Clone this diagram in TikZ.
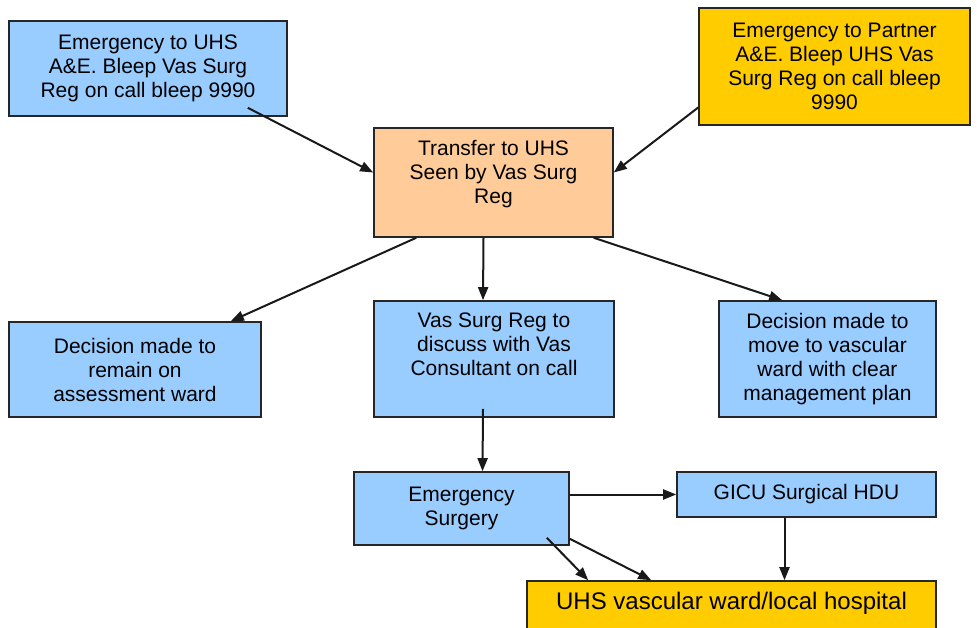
\documentclass[tikz,border=0pt]{standalone}
\usepackage{fontspec}
\setmainfont{Liberation Sans}
\usetikzlibrary{arrows.meta, calc, positioning}
\definecolor{cellblue}{HTML}{99CCFF}
\definecolor{cellpeach}{HTML}{FFCC99}
\definecolor{cellgold}{HTML}{FFCC00}
\newcommand{\padbelow}[1]{\rule[-#1]{0pt}{#1}}
\tikzset{
    box/.style = {rectangle, draw=black!85, line width=1.6pt, align=center, inner sep=2pt,
        font=\fontsize{21}{24}\selectfont},
    bluebox/.style = {box, fill=cellblue},
    peachbox/.style = {box, fill=cellpeach},
    goldbox/.style = {box, fill=cellgold},
    flow/.style = {-{Triangle[length=13pt,width=10pt]}, line width=2pt, draw=black!90},
}

\begin{document}
\begin{tikzpicture}[x=1pt, y=-1pt]
\useasboundingbox (0,0) rectangle (977,628);
\clip (0,0) rectangle (977,628);

\node[bluebox, minimum width=278pt, minimum height=95pt] (uhs) at (148,68.5)
    {Emergency to UHS\\A\&E. Bleep Vas Surg\\Reg on call bleep 9990};
\node[goldbox, minimum width=271pt, minimum height=117pt] (partner) at (834.5,66.5)
    {Emergency to Partner\\A\&E. Bleep UHS Vas\\Surg Reg on call bleep\\9990};
\node[peachbox, minimum width=239pt, minimum height=109pt] (transfer) at (493.5,182.5)
    {Transfer to UHS\\Seen by Vas Surg\\Reg\padbelow{22pt}};

\node[bluebox, minimum width=252pt, minimum height=95pt] (stay) at (135,369.5)
    {Decision made to\\remain on\\assessment ward};
\node[bluebox, minimum width=240pt, minimum height=116pt] (discuss) at (494,359)
    {Vas Surg Reg to\\discuss with Vas\\Consultant on call\padbelow{30pt}};
\node[bluebox, minimum width=217pt, minimum height=116pt] (move) at (827.5,359)
    {Decision made to\\move to vascular\\ward with clear\\management plan};

\node[bluebox, minimum width=215pt, minimum height=73pt] (surg) at (461.5,508.5)
    {Emergency\\Surgery};
\node[bluebox, minimum width=259pt, minimum height=45pt] (hdu) at (806.5,494.5)
    {GICU Surgical HDU};
\node[goldbox, minimum width=409pt, minimum height=60pt, font=\fontsize{24}{28}\selectfont] (ward) at (731.5,611)
    {UHS vascular ward/local hospital\padbelow{20pt}};

\draw[flow] ($(uhs.south east)+(-40,-9)$) -- ($(transfer.west)+(0,-10)$);
\draw[flow] ($(partner.west)+(0,41)$) -- ($(transfer.east)+(0,-10)$);

\draw[flow] ($(transfer.south west)+(43,0)$) -- ($(stay.north east)+(-31,0)$);
\draw[flow] ($(transfer.south)+(-10,0)$) -- ($(discuss.north)+(-11,0)$);
\draw[flow] ($(transfer.south east)+(-20,0)$) -- ($(move.north west)+(64,0)$);

\draw[flow] ($(discuss.south)+(-11,-9)$) -- ($(surg.north)+(21,0)$);
\draw[flow] ($(surg.east)+(0,-14)$) -- (hdu.west);
\draw[flow] ($(hdu.south)+(-22,0)$) -- ($(ward.north)+(53,0)$);
\draw[flow] ($(surg.south east)+(-23,-8)$) -- ($(ward.north west)+(62,0)$);
\draw[flow] ($(surg.south east)+(0,-7)$) -- ($(ward.north west)+(125,0)$);
\end{tikzpicture}
\end{document}
